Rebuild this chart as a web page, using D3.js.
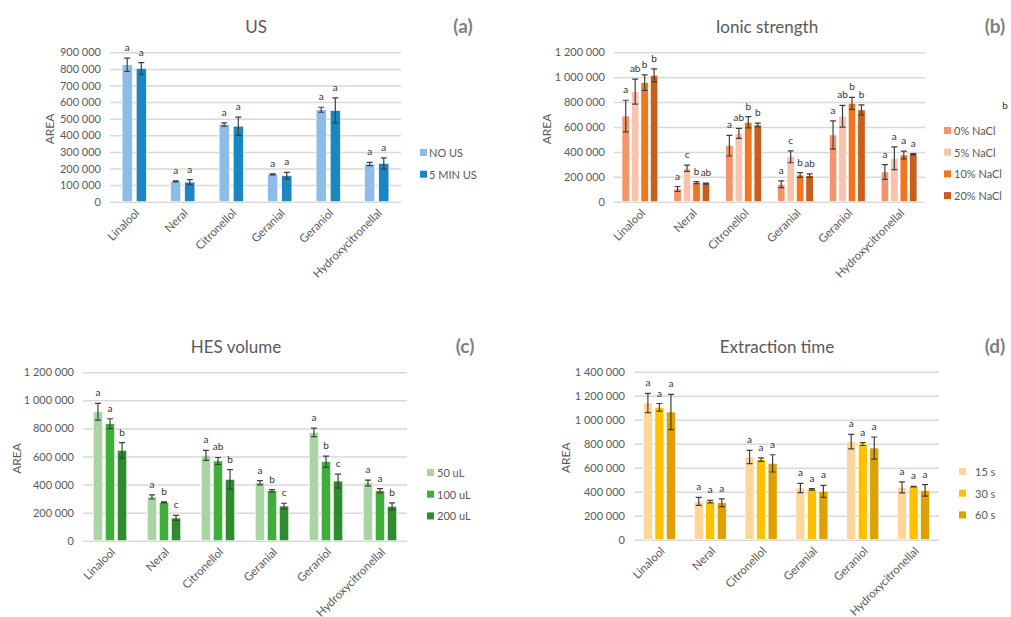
<!DOCTYPE html>
<html>
<head>
<meta charset="utf-8">
<script src="https://cdn.jsdelivr.net/npm/d3@7"></script>
<style>
  body { margin: 0; background: #fff; }
  svg { font-family: Lato, "Open Sans", sans-serif; }
</style>
</head>
<body>
<svg id="chart" width="1011" height="617"></svg>
<script>
const categories = ['Linalool', 'Neral', 'Citronellol', 'Geranial', 'Geraniol', 'Hydroxycitronellal'];

// (a) US
const usSeries = ['NO US', '5 MIN US'];
const usNoUs = [825000, 122000, 465000, 165000, 554000, 227000];
const usNoUsErr = [40000, 3000, 10000, 3000, 15000, 10000];
const us5Min = [803000, 118000, 455000, 157000, 550000, 231000];
const us5MinErr = [35000, 15000, 55000, 20000, 75000, 33000];
const usLetters = [['a', 'a'], ['a', 'a'], ['a', 'a'], ['a', 'a'], ['a', 'a'], ['a', 'a']];
const usTicks = [0, 100000, 200000, 300000, 400000, 500000, 600000, 700000, 800000, 900000];

// (b) Ionic strength
const naclSeries = ['0% NaCl', '5% NaCl', '10% NaCl', '20% NaCl'];
const nacl0 = [688000, 102000, 450000, 140000, 536000, 239000];
const nacl0Err = [127000, 20000, 83000, 27000, 113000, 59000];
const nacl5 = [884000, 268000, 549000, 361000, 686000, 349000];
const nacl5Err = [100000, 25000, 40000, 48000, 87000, 91000];
const nacl10 = [956000, 153000, 638000, 214000, 790000, 375000];
const nacl10Err = [62000, 8000, 45000, 19000, 48000, 31000];
const nacl20 = [1015000, 145000, 616000, 209000, 737000, 381000];
const nacl20Err = [52000, 4000, 15000, 14000, 40000, 5000];
const naclLetters = [['a', 'ab', 'b', 'b'], ['a', 'c', 'b', 'ab'], ['a', 'ab', 'b', 'b'],
                     ['a', 'c', 'b', 'ab'], ['a', 'ab', 'b', 'b'], ['a', 'a', 'a', 'a']];
const naclTicks = [0, 200000, 400000, 600000, 800000, 1000000, 1200000];

// (c) HES volume
const hesSeries = ['50 uL', '100 uL', '200 uL'];
const hes50 = [919000, 312000, 608000, 413000, 772000, 411000];
const hes50Err = [60000, 15000, 35000, 15000, 30000, 20000];
const hes100 = [834000, 273000, 568000, 356000, 563000, 356000];
const hes100Err = [35000, 3000, 25000, 8000, 40000, 15000];
const hes200 = [644000, 162000, 437000, 247000, 425000, 245000];
const hes200Err = [55000, 18000, 70000, 20000, 50000, 25000];
const hesLetters = [['a', 'a', 'b'], ['a', 'b', 'c'], ['a', 'ab', 'b'],
                    ['a', 'b', 'c'], ['a', 'b', 'c'], ['a', 'a', 'b']];
const hesTicks = [0, 200000, 400000, 600000, 800000, 1000000, 1200000];

// (d) Extraction time
const timeSeries = ['15 s', '30 s', '60 s'];
const time15 = [1139000, 319000, 689000, 431000, 817000, 436000];
const time15Err = [80000, 33000, 55000, 39000, 60000, 46000];
const time30 = [1103000, 317000, 667000, 419000, 797000, 442000];
const time30Err = [32000, 10000, 15000, 6000, 12000, 3000];
const time60 = [1064000, 308000, 636000, 403000, 764000, 411000];
const time60Err = [147000, 33000, 72000, 50000, 92000, 48000];
const timeLetters = [['a', 'a', 'a'], ['a', 'a', 'a'], ['a', 'a', 'a'],
                     ['a', 'a', 'a'], ['a', 'a', 'a'], ['a', 'a', 'a']];
const timeTicks = [0, 200000, 400000, 600000, 800000, 1000000, 1200000, 1400000];

const svg = d3.select('#chart');
const fmt = v => d3.format(',')(v).replace(/,/g, ' ');

function drawPanel(p) {
  const g = svg.append('g');
  const x0 = d3.scaleBand().domain(categories).range([p.left, p.right])
    .paddingInner(p.pad).paddingOuter(p.pad / 2);
  const x1 = d3.scaleBand().domain(p.series).range([0, x0.bandwidth()]).paddingInner(p.innerPad);
  const y = d3.scaleLinear().domain([0, p.ticks[p.ticks.length - 1]]).range([p.bottom, p.top]);

  // gridlines + y tick labels
  const yAxis = d3.axisLeft(y).tickValues(p.ticks).tickSize(-(p.right - p.left)).tickFormat(fmt);
  const ya = g.append('g').attr('transform', `translate(${p.left},0)`).call(yAxis);
  ya.select('.domain').remove();
  ya.selectAll('.tick line').attr('stroke', '#d9d9d9').attr('stroke-width', 1.5);
  ya.selectAll('.tick text').attr('x', -9).attr('fill', '#595959')
    .style('font-size', '11px').style('font-family', 'Lato, sans-serif')
    .style('white-space', 'pre');

  // x axis labels
  const xa = g.append('g').attr('transform', `translate(0,${p.bottom})`)
    .call(d3.axisBottom(x0).tickSize(0));
  xa.select('.domain').remove();
  xa.selectAll('.tick text')
    .attr('fill', '#595959').style('font-size', '11.5px').style('font-family', 'Lato, sans-serif')
    .attr('text-anchor', 'end').attr('dy', null).attr('y', 0).attr('x', 0)
    .attr('transform', 'translate(6,12) rotate(-45)');

  // bars
  const rows = [];
  categories.forEach((c, i) => {
    p.series.forEach((s, j) => {
      rows.push({c, s, j, v: p.values[j][i], e: p.errors[j][i], l: p.letters[i][j]});
    });
  });
  const bars = g.append('g');
  bars.selectAll('rect').data(rows).join('rect')
    .attr('x', d => x0(d.c) + x1(d.s))
    .attr('y', d => y(d.v))
    .attr('width', x1.bandwidth())
    .attr('height', d => y(0) - y(d.v))
    .attr('fill', d => p.colors[d.j])
    .attr('stroke', '#fff').attr('stroke-width', 0.6);

  // error bars
  const eb = g.append('g').attr('stroke', '#404040').attr('stroke-width', 1.2).attr('fill', 'none');
  rows.forEach(d => {
    const cx = x0(d.c) + x1(d.s) + x1.bandwidth() / 2;
    const y1 = y(d.v + d.e), y2 = y(d.v - d.e);
    eb.append('path').attr('d', `M${cx - 3},${y1}H${cx + 3}M${cx},${y1}V${y2}M${cx - 3},${y2}H${cx + 3}`);
  });

  // significance letters
  g.append('g').selectAll('text').data(rows).join('text')
    .attr('x', d => x0(d.c) + x1(d.s) + x1.bandwidth() / 2)
    .attr('y', d => y(d.v + d.e) - 7)
    .attr('text-anchor', 'middle').attr('fill', '#333')
    .style('font-size', '10px')
    .text(d => d.l);

  // titles
  g.append('text').attr('x', p.titleX).attr('y', p.titleY).attr('text-anchor', 'middle')
    .attr('fill', '#595959').style('font-size', '17px').text(p.title);
  g.append('text').attr('x', p.tagX).attr('y', p.titleY).attr('text-anchor', 'middle')
    .attr('fill', '#7f7f7f').style('font-size', '19px').style('font-weight', 'bold').text(p.tag);
  g.append('text')
    .attr('transform', `translate(${p.areaX},${(p.top + p.bottom) / 2 + 2}) rotate(-90)`)
    .attr('text-anchor', 'middle').attr('fill', '#595959').style('font-size', '12px').text('AREA');

  // legend
  const lg = g.append('g');
  p.series.forEach((s, j) => {
    const ly = p.legendY + j * 21.7;
    lg.append('rect').attr('x', p.legendX).attr('y', ly - 4).attr('width', 7).attr('height', 7)
      .attr('fill', p.colors[j]);
    lg.append('text').attr('x', p.legendX + p.legendGap).attr('y', ly + 4)
      .attr('fill', '#595959').style('font-size', '11px').text(s);
  });
}

drawPanel({
  title: 'US', tag: '(a)', titleX: 256, tagX: 463, titleY: 33,
  left: 110, right: 401, top: 52.3, bottom: 201.7, areaX: 54,
  pad: 0.5, innerPad: 0.28,
  series: usSeries, values: [usNoUs, us5Min], errors: [usNoUsErr, us5MinErr], letters: usLetters,
  ticks: usTicks, colors: ['#8dbde6', '#1a86c2'],
  legendX: 420, legendGap: 9, legendY: 153
});

drawPanel({
  title: 'Ionic strength', tag: '(b)', titleX: 767, tagX: 995, titleY: 33,
  left: 614, right: 925, top: 52.3, bottom: 201.7, areaX: 551,
  pad: 0.31, innerPad: 0.22,
  series: naclSeries, values: [nacl0, nacl5, nacl10, nacl20],
  errors: [nacl0Err, nacl5Err, nacl10Err, nacl20Err], letters: naclLetters,
  ticks: naclTicks, colors: ['#f4946a', '#f9c2ad', '#f2761f', '#c85e1c'],
  legendX: 944, legendGap: 10, legendY: 131
});
// stray label in the original figure
svg.append('text').attr('x', 1005).attr('y', 109).attr('text-anchor', 'middle')
  .attr('fill', '#333').style('font-size', '10px').text('b');

drawPanel({
  title: 'HES volume', tag: '(c)', titleX: 236, tagX: 465, titleY: 353,
  left: 83, right: 407, top: 372.3, bottom: 540.7, areaX: 21,
  pad: 0.38, innerPad: 0.22,
  series: hesSeries, values: [hes50, hes100, hes200],
  errors: [hes50Err, hes100Err, hes200Err], letters: hesLetters,
  ticks: hesTicks, colors: ['#a8d5a2', '#3fae3a', '#2e8b2e'],
  legendX: 427, legendGap: 10, legendY: 473
});

drawPanel({
  title: 'Extraction time', tag: '(d)', titleX: 777, tagX: 995, titleY: 353,
  left: 634, right: 939, top: 371.7, bottom: 539.7, areaX: 570,
  pad: 0.37, innerPad: 0.22,
  series: timeSeries, values: [time15, time30, time60],
  errors: [time15Err, time30Err, time60Err], letters: timeLetters,
  ticks: timeTicks, colors: ['#ffd69a', '#ffc000', '#e0a000'],
  legendX: 959, legendGap: 16, legendY: 472
});
</script>
</body>
</html>
